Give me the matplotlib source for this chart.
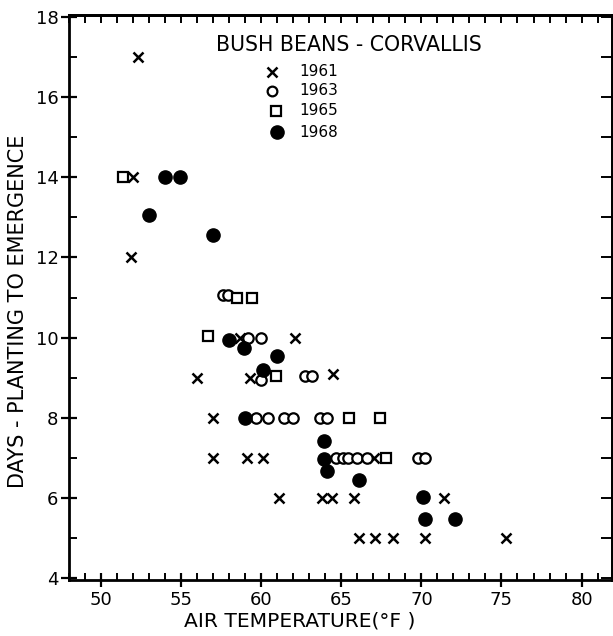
import matplotlib
matplotlib.use("Agg")
import matplotlib.pyplot as plt
from matplotlib.ticker import MultipleLocator

# ---- data (air temperature °F, days planting to emergence) ----
x1961 = [52.3, 52.0, 51.9, 56.0, 58.7, 62.1, 59.3, 64.5, 57.0, 57.0, 59.1, 60.1,
         61.1, 63.8, 64.4, 65.8, 71.4, 66.1, 67.1, 68.2, 70.2, 75.3, 67.05]
y1961 = [17.0, 14.0, 12.0, 9.0, 10.0, 10.0, 9.0, 9.1, 8.0, 7.0, 7.0, 7.0,
         6.0, 6.0, 6.0, 6.0, 6.0, 5.0, 5.0, 5.0, 5.0, 5.0, 7.0]

x1963 = [57.6, 57.9, 59.2, 60.0, 60.0, 62.75, 63.2, 59.7, 60.4, 61.4, 62.0, 63.7,
         64.1, 64.7, 65.1, 65.4, 66.0, 66.6, 69.8, 70.2]
y1963 = [11.05, 11.05, 10.0, 10.0, 8.93, 9.03, 9.03, 8.0, 8.0, 8.0, 8.0, 8.0,
         8.0, 7.0, 7.0, 7.0, 7.0, 7.0, 7.0, 7.0]

x1965 = [51.4, 58.5, 59.4, 56.7, 60.9, 65.5, 67.4, 67.8]
y1965 = [14.0, 11.0, 11.0, 10.03, 9.05, 8.0, 8.0, 7.0]

x1968 = [54.0, 54.9, 53.0, 57.0, 58.0, 58.9, 61.0, 60.1, 59.0, 63.9, 63.9, 64.1,
         66.1, 70.1, 70.2, 72.1]
y1968 = [14.0, 14.0, 13.05, 12.55, 9.95, 9.74, 9.53, 9.18, 8.0, 7.43, 6.97, 6.66,
         6.45, 6.02, 5.47, 5.47]

title = "BUSH BEANS - CORVALLIS"
years = ["1961", "1963", "1965", "1968"]
xlabel = "AIR TEMPERATURE(°F )"
ylabel = "DAYS - PLANTING TO EMERGENCE"

plt.rcParams['font.family'] = ['DejaVu Sans']

fig = plt.figure(figsize=(6.13, 6.36), dpi=100)
ax = fig.add_axes([69/613, 1-580/636, (612-69)/613, (580-15)/636])

ax.plot(x1961, y1961, 'x', color='black', ms=7, mew=1.8, ls='none')
ax.plot(x1963, y1963, 'o', mfc='white', mec='black', ms=7.5, mew=1.6, ls='none')
ax.plot(x1965, y1965, 's', mfc='white', mec='black', ms=7, mew=1.6, ls='none')
ax.plot(x1968, y1968, 'o', color='black', ms=9.5, ls='none')

ax.set_xlim(48, 81.9)
ax.set_ylim(3.95, 18.05)

for s in ax.spines.values():
    s.set_linewidth(2)

ax.xaxis.set_major_locator(MultipleLocator(5))
ax.xaxis.set_minor_locator(MultipleLocator(1))
ax.yaxis.set_major_locator(MultipleLocator(2))
ax.yaxis.set_minor_locator(MultipleLocator(1))

ax.tick_params(axis='x', which='major', direction='inout', length=10, width=1.6,
               labelsize=13, pad=3, top=False)
ax.tick_params(axis='x', which='minor', direction='in', length=5, width=1.4, top=False)
ax.tick_params(axis='y', which='major', direction='inout', length=11, width=1.6,
               labelsize=13, pad=2, right=False)
ax.tick_params(axis='y', which='minor', direction='in', length=6, width=1.4, right=False)

# top and right ticks (inward, every unit)
axt = ax.secondary_xaxis('top')
axt.xaxis.set_major_locator(MultipleLocator(1))
axt.tick_params(direction='in', length=6, width=1.4, labeltop=False)
axt.spines['top'].set_linewidth(2)
axr = ax.secondary_yaxis('right')
axr.yaxis.set_major_locator(MultipleLocator(1))
axr.tick_params(direction='in', length=8, width=1.4, labelright=False)
axr.spines['right'].set_linewidth(2)

ax.set_xlabel(xlabel, fontsize=14.6, labelpad=4)
ax.xaxis.set_label_coords(0.425, -0.055)
ax.set_ylabel(ylabel, fontsize=15)
ax.yaxis.set_label_coords(-0.076, 0.475)

# legend-like annotation in data coords
ax.text(65.5, 17.29, title, fontsize=14.8, ha='center', va='center')
lx_m, lx_t = 60.7, 62.4
ly = [16.64, 16.16, 15.66, 15.12]
ax.plot([lx_m], [ly[0]], 'x', color='black', ms=6.5, mew=1.8)
ax.plot([lx_m], [ly[1]], 'o', mfc='white', mec='black', ms=7, mew=1.6)
ax.plot([lx_m + 0.2], [ly[2]], 's', mfc='white', mec='black', ms=7, mew=1.6)
ax.plot([lx_m + 0.3], [ly[3]], 'o', color='black', ms=9.5)
for yy, lab in zip(ly, years):
    ax.text(lx_t, yy, lab, fontsize=11, ha='left', va='center')

fig.savefig("out.png", dpi=100)
